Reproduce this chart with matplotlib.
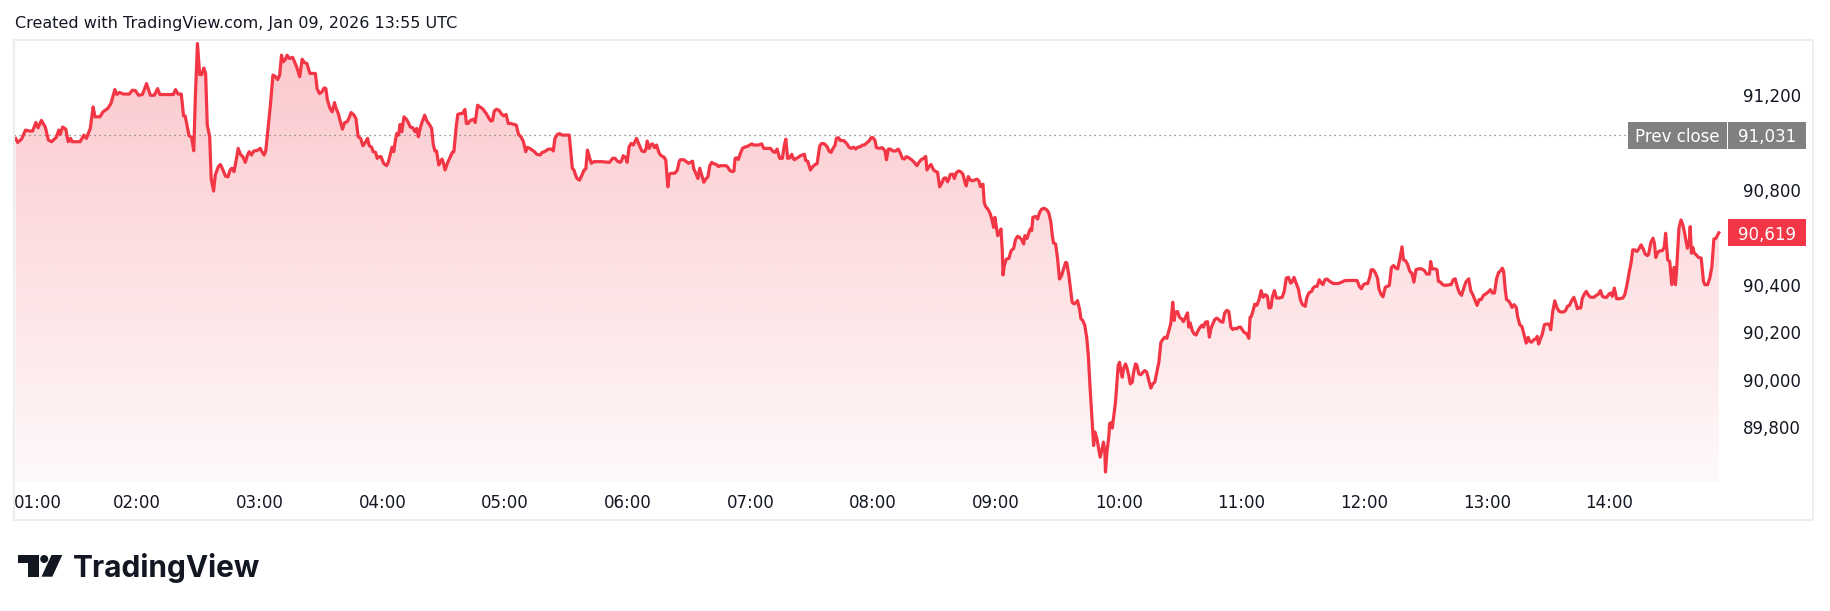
import numpy as np
import matplotlib
matplotlib.use("Agg")
import matplotlib.pyplot as plt
from matplotlib.colors import to_rgb
from matplotlib.patches import Rectangle, Polygon, Ellipse
from matplotlib.ticker import FuncFormatter

# price samples: (minutes after midnight, price)
session_0100_0600 = [
    (60.7, 91017), (61.7, 91000), (63.6, 91014), (65.5, 91052), (67.5, 91048),
    (69.0, 91048), (70.6, 91084), (71.7, 91062), (73.3, 91093), (75.2, 91065),
    (76.7, 91010), (78.3, 91003), (80.6, 91022), (81.8, 91052), (82.5, 91034),
    (83.7, 91065), (85.2, 91056), (86.4, 91003), (87.6, 91017), (88.3, 91003),
    (92.2, 91003), (94.1, 91031), (95.3, 91017), (97.2, 91059), (98.6, 91150),
    (99.5, 91108), (101.9, 91108), (103.4, 91129), (105.7, 91143), (107.3, 91164),
    (109.2, 91223), (110.2, 91202), (111.5, 91211), (113.4, 91204), (116.3, 91204),
    (117.7, 91220), (119.2, 91219), (120.8, 91199), (122.7, 91202), (124.7, 91248),
    (126.6, 91199), (128.5, 91199), (130.1, 91227), (131.2, 91202), (134.7, 91202),
    (137.8, 91202), (138.9, 91223), (140.1, 91204), (141.7, 91204), (142.8, 91112),
    (143.6, 91112), (145.5, 91028), (146.7, 91022), (147.8, 90965), (148.6, 91199),
    (149.6, 91417), (150.7, 91286), (151.7, 91286), (152.7, 91314), (153.6, 91291),
    (154.4, 91073), (155.6, 91024), (156.3, 90848), (157.5, 90795), (158.3, 90862),
    (159.8, 90898), (160.8, 90907), (161.7, 90891), (163.3, 90858), (164.5, 90855),
    (165.6, 90884), (166.4, 90891), (167.5, 90877), (168.7, 90933), (169.5, 90975),
    (170.6, 90950), (171.8, 90940), (173.0, 90916), (174.1, 90947), (174.9, 90961),
    (176.0, 90947), (177.2, 90964), (178.8, 90966), (180.3, 90975), (181.1, 90961),
    (182.2, 90947), (183.0, 90964), (184.2, 91066), (185.3, 91160), (186.5, 91284),
    (187.6, 91279), (188.8, 91265), (189.8, 91284), (190.7, 91368), (191.5, 91340),
    (192.7, 91351), (193.4, 91368), (194.6, 91354), (196.1, 91359), (198.1, 91319),
    (199.6, 91277), (200.8, 91351), (201.9, 91337), (203.1, 91333), (204.6, 91291),
    (206.2, 91291), (207.3, 91291), (208.1, 91227), (209.3, 91206), (210.4, 91213),
    (211.6, 91230), (212.4, 91227), (213.1, 91181), (214.3, 91146), (215.5, 91129),
    (216.6, 91168), (217.4, 91143), (218.5, 91121), (219.3, 91094), (220.5, 91056),
    (221.6, 91084), (222.8, 91087), (224.0, 91108), (224.7, 91126), (225.9, 91118),
    (227.1, 91101), (228.2, 91024), (229.4, 91017), (230.5, 90986), (231.7, 91000),
    (232.8, 91017), (233.6, 90986), (234.8, 90980), (235.5, 90961), (236.7, 90958),
    (237.5, 90933), (238.6, 90940), (239.4, 90940), (240.6, 90912), (242.1, 90902),
    (242.9, 90916), (244.0, 90954), (244.8, 90980), (245.6, 90961), (246.4, 91010),
    (247.1, 91038), (247.9, 91031), (248.7, 91076), (249.5, 91045), (250.6, 91108),
    (251.8, 91098), (252.9, 91080), (253.7, 91065), (254.9, 91062), (256.0, 91045),
    (256.8, 91059), (257.6, 91024), (258.7, 91066), (259.5, 91087), (260.7, 91115),
    (261.8, 91090), (263.0, 91076), (264.1, 91059), (264.9, 90992), (265.7, 90964),
    (266.5, 90964), (267.6, 90905), (268.4, 90919), (269.2, 90930), (269.9, 90912),
    (270.7, 90884), (271.9, 90914), (273.0, 90935), (274.2, 90958), (275.0, 90961),
    (276.1, 91065), (276.9, 91118), (278.1, 91122), (279.2, 91122), (280.4, 91139),
    (281.1, 91080), (281.9, 91080), (283.1, 91093), (284.6, 91098), (285.4, 91084),
    (286.6, 91157), (287.7, 91150), (288.9, 91143), (289.6, 91136), (290.8, 91122),
    (292.0, 91104), (293.1, 91090), (293.9, 91093), (294.7, 91132), (295.8, 91140),
    (297.0, 91136), (298.1, 91122), (299.3, 91112), (300.5, 91118), (301.6, 91080),
    (302.8, 91080), (304.3, 91076), (305.5, 91073), (306.6, 91034), (307.8, 91024),
    (309.0, 91003), (310.1, 90961), (310.9, 90979), (312.1, 90975), (313.2, 90968),
    (314.4, 90961), (315.5, 90950), (317.1, 90947), (318.2, 90958), (319.4, 90961),
    (320.6, 90969), (321.7, 90972), (322.9, 90972), (323.6, 90964), (324.4, 91017),
    (325.6, 91034), (326.7, 91037), (327.9, 91031), (331.4, 91031), (332.9, 90891),
    (333.7, 90884), (334.5, 90862), (335.2, 90848), (336.4, 90841), (337.6, 90862),
    (338.7, 90884), (339.5, 90888), (340.3, 90968), (341.4, 90933), (342.2, 90912),
    (343.4, 90919), (347.2, 90919), (351.1, 90916), (352.6, 90933), (353.8, 90933),
    (354.9, 90921), (356.1, 90916),
]

session_0600_0840 = [
    (356.8, 90919), (357.8, 90944), (359.1, 90935), (359.7, 90916), (360.7, 90982),
    (361.7, 90996), (362.7, 90989), (364.3, 91017), (365.6, 90989), (366.9, 90964),
    (368.2, 90961), (368.9, 90972), (369.5, 91006), (370.5, 90975), (371.1, 90989),
    (372.1, 90994), (373.1, 90978), (374.1, 90989), (374.7, 90972), (375.4, 90954),
    (376.4, 90944), (377.7, 90938), (378.6, 90926), (379.6, 90813), (380.3, 90865),
    (381.2, 90870), (382.9, 90870), (384.2, 90882), (385.2, 90921), (385.8, 90927),
    (387.4, 90927), (388.7, 90919), (389.7, 90912), (390.7, 90916), (391.7, 90921),
    (392.3, 90888), (393.3, 90870), (394.3, 90848), (395.2, 90891), (396.2, 90862),
    (397.2, 90832), (398.2, 90846), (399.2, 90855), (400.1, 90902), (401.1, 90916),
    (402.1, 90910), (403.4, 90907), (404.4, 90898), (405.3, 90902), (408.0, 90902),
    (408.9, 90896), (409.9, 90882), (410.9, 90877), (411.9, 90879), (412.5, 90933),
    (413.2, 90935), (414.1, 90928), (415.1, 90954), (416.1, 90975), (417.1, 90980),
    (418.4, 90983), (419.7, 90989), (420.7, 90994), (421.6, 90989), (423.9, 90989),
    (424.9, 90992), (425.5, 90994), (426.5, 90975), (428.2, 90975), (429.8, 90975),
    (431.1, 90961), (432.1, 90958), (433.0, 90972), (434.3, 90933), (435.6, 90933),
    (436.6, 90989), (437.3, 91014), (438.2, 90933), (439.2, 90935), (440.2, 90950),
    (440.9, 90933), (441.5, 90927), (442.5, 90933), (443.5, 90938), (444.4, 90944),
    (445.4, 90947), (446.4, 90950), (447.0, 90924), (448.0, 90921), (449.3, 90884),
    (450.3, 90896), (451.6, 90907), (452.6, 90910), (453.2, 90947), (453.9, 90986),
    (454.9, 90996), (456.2, 90994), (457.5, 90982), (458.4, 90964), (459.4, 90958),
    (460.4, 90975), (461.4, 90989), (462.0, 91017), (463.0, 91020), (464.0, 91008),
    (465.6, 91008), (467.2, 90994), (468.2, 90980), (469.2, 90975), (470.5, 90980),
    (471.5, 90972), (472.5, 90980), (473.8, 90982), (474.7, 90989), (475.7, 90989),
    (476.7, 90997), (478.0, 91006), (479.0, 91020), (479.9, 91020), (480.9, 91008),
    (481.6, 90978), (482.9, 90975), (484.5, 90978), (485.8, 90964), (486.5, 90927),
    (487.4, 90972), (488.4, 90972), (489.7, 90964), (491.0, 90964), (492.3, 90972),
    (493.3, 90955), (494.3, 90933), (495.3, 90930), (496.2, 90940), (497.5, 90935),
    (498.8, 90927), (500.1, 90916), (501.4, 90902), (502.4, 90916), (503.4, 90927),
    (504.7, 90933), (505.7, 90941), (506.3, 90884), (507.3, 90898), (508.3, 90907),
    (509.3, 90888), (510.2, 90879), (511.5, 90874), (512.5, 90813), (513.5, 90827),
    (514.5, 90848), (515.4, 90851), (516.4, 90834), (517.1, 90848), (517.7, 90865),
]

session_0840_1105 = [
    (519.0, 90866), (519.7, 90848), (520.7, 90873), (521.8, 90880), (522.9, 90876),
    (523.9, 90866), (524.9, 90831), (525.5, 90817), (526.5, 90856), (527.5, 90842),
    (528.5, 90838), (529.8, 90842), (530.8, 90845), (531.7, 90838), (532.4, 90814),
    (533.0, 90820), (533.7, 90824), (534.3, 90747), (535.0, 90730), (536.3, 90716),
    (537.3, 90698), (538.2, 90670), (538.9, 90642), (539.5, 90684), (540.2, 90646),
    (540.9, 90607), (541.8, 90618), (542.5, 90635), (543.1, 90550), (543.5, 90441),
    (544.1, 90480), (545.1, 90508), (546.4, 90511), (547.4, 90543), (548.7, 90553),
    (549.6, 90590), (550.6, 90604), (551.6, 90600), (552.6, 90590), (553.6, 90572),
    (554.2, 90607), (555.2, 90595), (556.2, 90621), (556.8, 90635), (557.5, 90628),
    (558.1, 90684), (559.4, 90688), (560.4, 90677), (561.4, 90705), (562.4, 90719),
    (563.7, 90722), (565.0, 90715), (565.9, 90702), (566.9, 90663), (567.6, 90607),
    (568.2, 90576), (569.2, 90572), (570.2, 90508), (571.1, 90424), (572.1, 90438),
    (573.1, 90466), (574.1, 90494), (574.7, 90492), (575.7, 90438), (576.7, 90368),
    (577.3, 90326), (578.3, 90319), (579.3, 90326), (579.9, 90333), (580.9, 90298),
    (581.6, 90256), (582.5, 90249), (583.5, 90228), (584.5, 90172), (585.2, 90101),
    (586.1, 89961), (587.1, 89821), (587.8, 89722), (588.4, 89779), (589.4, 89751),
    (590.4, 89701), (591.0, 89673), (592.0, 89708), (592.6, 89736), (593.3, 89694),
    (593.6, 89610), (594.3, 89694), (595.3, 89765), (595.6, 89814), (596.2, 89818),
    (596.9, 89795), (597.5, 89835), (598.5, 89905), (599.2, 89989), (599.8, 90059),
    (600.5, 90073), (601.1, 90038), (601.8, 90010), (602.4, 90045), (603.4, 90066),
    (604.0, 90052), (605.0, 90017), (605.7, 89982), (606.7, 89989), (607.3, 90028),
    (608.3, 90066), (608.9, 90062), (609.9, 90024), (610.9, 90020), (611.9, 90031),
    (612.8, 90038), (613.8, 90031), (614.8, 89996), (615.8, 89964), (616.7, 89982),
    (617.7, 89989), (618.7, 90031), (619.7, 90073), (620.7, 90157), (621.6, 90169),
    (622.6, 90179), (623.6, 90174), (624.6, 90207), (625.5, 90235), (626.5, 90326),
    (627.2, 90249), (627.8, 90284), (628.8, 90287), (629.8, 90263), (630.8, 90256),
    (631.7, 90244), (632.7, 90263), (633.7, 90281), (634.3, 90221), (635.0, 90239),
    (636.0, 90207), (636.9, 90193), (637.9, 90188), (638.9, 90207), (639.9, 90221),
    (640.9, 90230), (641.5, 90221), (642.5, 90242), (643.5, 90244), (644.4, 90179),
    (645.1, 90214), (646.1, 90235), (647.0, 90253), (648.0, 90259), (649.0, 90253),
    (650.0, 90244), (651.0, 90242), (651.9, 90281), (652.9, 90292), (653.9, 90287),
    (654.9, 90221), (655.8, 90211), (656.8, 90216), (657.8, 90214), (658.8, 90221),
    (659.7, 90221), (660.7, 90207), (661.7, 90197), (662.7, 90193), (663.7, 90174),
    (664.3, 90263),
]

session_1105_1455 = [
    (664.9, 90266), (665.9, 90295), (666.6, 90318), (667.6, 90313), (668.7, 90337),
    (669.7, 90375), (670.7, 90347), (671.8, 90358), (672.8, 90351), (673.5, 90302),
    (674.5, 90304), (675.2, 90349), (676.2, 90375), (677.2, 90344), (678.6, 90344),
    (680.0, 90347), (681.0, 90372), (682.0, 90428), (683.1, 90431), (684.1, 90407),
    (684.8, 90411), (685.8, 90431), (686.8, 90407), (687.9, 90383), (688.9, 90337),
    (689.9, 90316), (691.3, 90309), (692.0, 90344), (693.0, 90365), (694.4, 90372),
    (695.1, 90386), (696.1, 90393), (697.1, 90393), (698.1, 90421), (699.2, 90407),
    (699.9, 90400), (700.9, 90421), (701.9, 90424), (703.3, 90414), (705.0, 90405),
    (707.4, 90405), (709.1, 90411), (710.5, 90417), (712.5, 90418), (715.3, 90418),
    (716.7, 90417), (717.7, 90393), (718.7, 90383), (719.7, 90400), (720.8, 90405),
    (721.8, 90405), (722.8, 90431), (723.5, 90463), (724.5, 90463), (725.6, 90449),
    (726.6, 90428), (727.3, 90383), (728.3, 90360), (729.3, 90349), (730.4, 90389),
    (731.4, 90393), (732.4, 90397), (733.4, 90473), (734.5, 90481), (735.5, 90470),
    (736.5, 90467), (737.6, 90512), (738.6, 90560), (739.3, 90505), (740.3, 90501),
    (741.3, 90487), (742.4, 90456), (743.4, 90449), (744.4, 90411), (745.4, 90463),
    (746.5, 90467), (748.2, 90467), (749.6, 90459), (750.6, 90445), (752.0, 90445),
    (752.6, 90498), (753.3, 90467), (754.7, 90467), (755.7, 90463), (756.4, 90414),
    (757.4, 90411), (758.5, 90400), (759.8, 90397), (761.6, 90400), (762.6, 90400),
    (763.6, 90421), (764.6, 90425), (765.7, 90389), (766.7, 90365), (767.7, 90355),
    (768.8, 90386), (769.8, 90411), (771.2, 90425), (772.2, 90375), (773.2, 90358),
    (774.2, 90337), (775.3, 90313), (776.3, 90337), (777.3, 90337), (778.4, 90355),
    (779.4, 90360), (780.7, 90369), (781.8, 90379), (782.8, 90365), (783.8, 90365),
    (784.9, 90428), (785.9, 90453), (786.9, 90459), (787.6, 90470), (788.3, 90456),
    (789.0, 90386), (789.7, 90337), (790.7, 90332), (791.4, 90323), (792.4, 90304),
    (793.4, 90316), (794.5, 90304), (795.1, 90266), (796.2, 90231), (797.2, 90224),
    (798.2, 90192), (799.3, 90154), (800.3, 90178), (801.0, 90161), (802.0, 90158),
    (803.0, 90168), (804.1, 90172), (804.7, 90182), (805.4, 90150), (806.1, 90168),
    (807.1, 90189), (808.2, 90231), (809.2, 90234), (810.6, 90234), (811.3, 90210),
    (812.3, 90288), (813.3, 90332), (814.3, 90304), (815.4, 90288), (816.4, 90285),
    (817.4, 90285), (818.5, 90290), (819.5, 90309), (820.5, 90313), (821.5, 90332),
    (822.6, 90347), (823.6, 90323), (824.3, 90299), (825.0, 90302), (826.0, 90302),
    (826.7, 90341), (827.7, 90360), (828.7, 90372), (829.8, 90355), (830.8, 90347),
    (832.5, 90347), (833.5, 90355), (834.6, 90360), (835.6, 90375), (836.6, 90351),
    (837.6, 90347), (838.7, 90347), (839.7, 90360), (840.7, 90365), (841.4, 90351),
    (842.4, 90386), (843.5, 90341), (844.8, 90341), (846.6, 90344), (847.6, 90360),
    (848.6, 90400), (849.6, 90449), (850.7, 90498), (851.4, 90547), (852.4, 90547),
    (853.4, 90540), (854.4, 90551), (855.5, 90568), (856.5, 90551), (857.5, 90529),
    (858.6, 90523), (859.2, 90529), (860.3, 90579), (861.3, 90596), (862.0, 90575),
    (862.7, 90515), (863.7, 90537), (864.7, 90543), (865.8, 90543), (866.8, 90557),
    (867.5, 90617), (868.5, 90505), (869.5, 90498), (870.5, 90400), (871.6, 90473),
    (872.3, 90400), (872.9, 90470), (874.0, 90638), (875.0, 90673), (876.0, 90650),
    (877.1, 90603), (878.1, 90554), (879.1, 90585), (879.5, 90645), (880.1, 90533),
    (880.8, 90557), (881.5, 90533), (882.5, 90526), (883.6, 90515), (884.9, 90512),
    (886.0, 90414), (886.7, 90400), (888.0, 90400), (889.1, 90428), (890.1, 90477),
    (891.1, 90593), (892.1, 90596), (893.5, 90619),
]

prev_close = 91031
# 91,000 and 90,600 sit under the price tags and are hidden, as in TradingView
price_ticks = [89800, 90000, 90200, 90400, 90800, 91200]
hour_ticks = list(range(60, 841, 60))
hour_labels = [f"{h:02d}:00" for h in range(1, 15)]
header = "Created with TradingView.com, Jan 09, 2026 13:55 UTC"

RED = "#F23645"
TEXT = "#131722"
GREY_TAG = "#808080"

W, H = 1830, 611
PANE_L, PANE_R, PANE_T, PANE_B = 14, 1727, 40, 482


def fx(px):
    return px / W


def fy(py):
    return 1 - py / H


def ax_x(px):
    # pixel column -> axes fraction of the price pane
    return (px - PANE_L) / (PANE_R - PANE_L)


data = np.array(session_0100_0600 + session_0600_0840 +
                session_0840_1105 + session_1105_1455, dtype=float)
t, p = data[:, 0], data[:, 1]

plt.rcParams["font.family"] = ["DejaVu Sans"]
fig = plt.figure(figsize=(W / 100, H / 100), dpi=100)
fig.patch.set_facecolor("white")

ax = fig.add_axes([fx(PANE_L), fy(PANE_B), fx(PANE_R) - fx(PANE_L),
                   fy(PANE_T) - fy(PANE_B)])
xlim = (59.9, 897.5)
ylim = (89568, 91432)

# gradient area under the line
grad = np.zeros((256, 1, 4))
grad[..., :3] = to_rgb(RED)
grad[:, 0, 3] = np.linspace(0.03, 0.28, 256)
im = ax.imshow(grad, extent=[xlim[0], xlim[1], ylim[0], ylim[1]],
               origin="lower", aspect="auto", interpolation="bilinear",
               zorder=1)
area = ax.fill_between(t, p, ylim[0], color="none", lw=0)
im.set_clip_path(area.get_paths()[0], transform=ax.transData)

ax.plot(t, p, color=RED, lw=2.3, solid_joinstyle="round", zorder=3)
ax.axhline(prev_close, xmin=0, xmax=ax_x(1626), color="#777777", lw=0.9,
           ls=(0, (1, 3)), zorder=2)

ax.set_xlim(*xlim)
ax.set_ylim(*ylim)
for s in ax.spines.values():
    s.set_visible(False)

ax.set_xticks(hour_ticks)
ax.set_xticklabels(hour_labels)
ax.tick_params(axis="x", length=0, pad=9, labelsize=12, labelcolor=TEXT)
ax.get_xticklabels()[0].set_horizontalalignment("left")

ax.yaxis.tick_right()
ax.set_yticks(price_ticks)
ax.yaxis.set_major_formatter(FuncFormatter(lambda v, _: f"{v:,.0f}"))
ax.tick_params(axis="y", length=0, pad=11.5, labelsize=12, labelcolor=TEXT)

# price tags on the scale
units_per_px = (ylim[1] - ylim[0]) / (PANE_B - PANE_T)
tag_h = 27 * units_per_px
trans = ax.get_yaxis_transform()


def tag(x0, x1, price, text, color):
    ax.add_patch(Rectangle((ax_x(x0), price - tag_h / 2), ax_x(x1) - ax_x(x0),
                           tag_h, transform=trans, facecolor=color,
                           edgecolor="none", clip_on=False, zorder=5))
    ax.text(ax_x((x0 + x1) / 2), price, text, transform=trans, ha="center",
            va="center_baseline", color="white", fontsize=12, zorder=6,
            clip_on=False)


tag(1628, 1727, prev_close, "Prev close", GREY_TAG)
tag(1728, 1806, prev_close, f"{prev_close:,}", GREY_TAG)
tag(1728, 1806, p[-1], f"{p[-1]:,.0f}", RED)

# chart frame
fig.add_artist(Rectangle((fx(14), fy(520)), fx(1813) - fx(14),
                         fy(40) - fy(520), transform=fig.transFigure,
                         fill=False, edgecolor="#EDEDED", lw=1.5))

fig.text(fx(15), fy(28.3), header, fontsize=11.5, color=TEXT, va="baseline")

# TradingView logo
logo_t = [(18.3, 555), (39.3, 555), (39.3, 576.7), (27.5, 576.7),
          (27.5, 562.5), (18.3, 562.5)]
logo_slash = [(51.5, 555), (62.3, 555), (52.3, 576.7), (41.5, 576.7)]
for shape in (logo_t, logo_slash):
    fig.add_artist(Polygon([(fx(a), fy(b)) for a, b in shape], closed=True,
                           transform=fig.transFigure, facecolor=TEXT,
                           edgecolor="none"))
fig.add_artist(Ellipse((fx(44.2), fy(559)), 8 / W, 8 / H,
                       transform=fig.transFigure, facecolor=TEXT,
                       edgecolor="none"))
fig.text(fx(73), fy(576.7), "TradingView", fontsize=21.5, fontweight="bold",
         family=["Inter", "DejaVu Sans"], color=TEXT, va="baseline")

fig.savefig("out.png", dpi=100, facecolor="white")
